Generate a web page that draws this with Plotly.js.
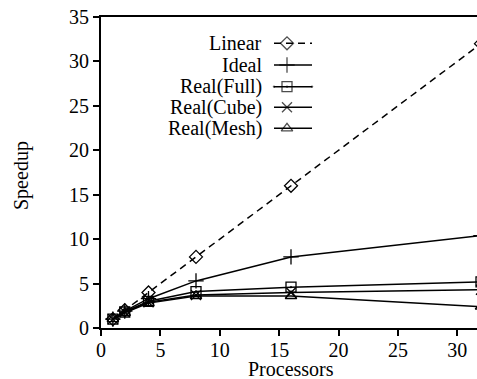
<!DOCTYPE html>
<html>
<head>
<meta charset="utf-8">
<script src="https://cdn.plot.ly/plotly-3.0.1.min.js"></script>
<style>
html,body{margin:0;padding:0;overflow:hidden;background:#fff;}
#chart{width:482px;height:379px;}
</style>
</head>
<body>
<div id="chart"></div>
<script>
// Data
const processors = [1, 2, 4, 8, 16, 32];
const linear   = [1, 2, 4, 8, 16, 32];
const ideal    = [1, 1.9, 3.3, 5.3, 8.0, 10.4];
const realFull = [1, 1.8, 3.0, 4.1, 4.6, 5.2];
const realCube = [1, 1.8, 2.9, 3.7, 4.0, 4.3];
const realMesh = [1, 1.7, 2.8, 3.6, 3.6, 2.4];

const seriesNames = ["Linear", "Ideal", "Real(Full)", "Real(Cube)", "Real(Mesh)"];
const seriesData = [linear, ideal, realFull, realCube, realMesh];
const symbols = ["diamond-open", "cross-thin-open", "square-open-dot", "x-thin-open", "triangle-up-open"];
const sizes = [10, 11, 10, 10, 10];
const dashes = ["7px,5px", "solid", "solid", "solid", "solid"];

const FONT = "'Liberation Serif', 'Times New Roman', serif";
const traces = [];
seriesData.forEach((ys, i) => {
  traces.push({
    x: processors, y: ys, type: "scatter", mode: "lines+markers",
    name: seriesNames[i], showlegend: false,
    line: {color: "#000", width: 1.5, dash: dashes[i]},
    marker: {symbol: symbols[i], size: sizes[i], color: "#000", line: {color: "#000", width: 1.3}},
    cliponaxis: false
  });
});

// Legend samples (on an overlay axis in pixel-like units)
const legendRowsY = [43.3, 65, 86.7, 107.3, 128.3];
const annotations = [];
seriesNames.forEach((name, i) => {
  traces.push({
    x: [274, 287, 312], y: [legendRowsY[i], legendRowsY[i], legendRowsY[i]],
    xaxis: "x2", yaxis: "y2", type: "scatter", mode: "lines+markers", showlegend: false,
    hoverinfo: "skip",
    line: {color: "#000", width: 1.5, dash: dashes[i]},
    marker: {symbol: symbols[i], size: [0, sizes[i], 0], color: "#000", line: {color: "#000", width: 1.3}}
  });
  annotations.push({
    xref: "x2", yref: "y2", x: 264, y: legendRowsY[i], text: name,
    showarrow: false, xanchor: "right", yanchor: "middle",
    font: {family: FONT, size: 20, color: "#000"}
  });
});

annotations.push({
  xref: "paper", yref: "paper", x: (21 - 101) / 380, y: (328 - 176) / 311,
  text: "Speedup", textangle: -90, showarrow: false,
  xanchor: "center", yanchor: "middle",
  font: {family: FONT, size: 20, color: "#000"}
});
annotations.push({
  xref: "paper", yref: "paper", x: (291 - 101) / 380, y: (328 - 369) / 311,
  text: "Processors", showarrow: false,
  xanchor: "center", yanchor: "middle",
  font: {family: FONT, size: 20, color: "#000"}
});

const layout = {
  width: 482, height: 379,
  margin: {l: 101, r: 1, t: 17, b: 51},
  paper_bgcolor: "#fff", plot_bgcolor: "#fff",
  font: {family: FONT, size: 20, color: "#000"},
  showlegend: false,
  xaxis: {
    range: [0, 32], tickvals: [0, 5, 10, 15, 20, 25, 30],
    showgrid: false, zeroline: false,
    showline: true, linecolor: "#000", linewidth: 2, mirror: true,
    ticks: "outside", ticklen: 6, tickwidth: 2, tickcolor: "#000",
    ticklabelstandoff: -3,
    tickfont: {family: FONT, size: 20, color: "#000"}
  },
  yaxis: {
    range: [0, 35], tickvals: [0, 5, 10, 15, 20, 25, 30, 35],
    showgrid: false, zeroline: false,
    showline: true, linecolor: "#000", linewidth: 2, mirror: true,
    ticks: "outside", ticklen: 6, tickwidth: 2, tickcolor: "#000",
    tickfont: {family: FONT, size: 20, color: "#000"}
  },
  xaxis2: {range: [101, 481], overlaying: "x", visible: false, fixedrange: true},
  yaxis2: {range: [328, 17], overlaying: "y", visible: false, fixedrange: true},
  annotations: annotations
};

Plotly.newPlot("chart", traces, layout, {displayModeBar: false, staticPlot: true});
</script>
</body>
</html>
